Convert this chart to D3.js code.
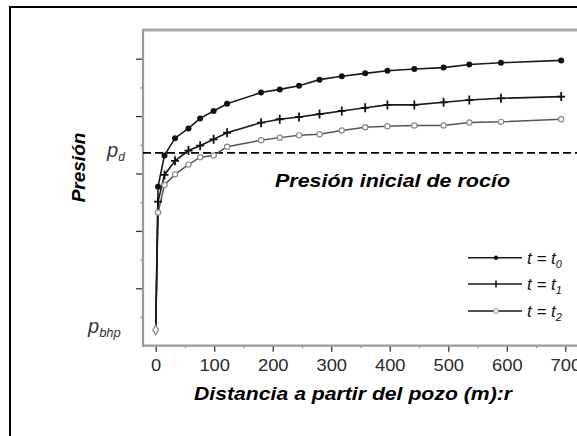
<!DOCTYPE html>
<html>
<head>
<meta charset="utf-8">
<script src="https://cdn.jsdelivr.net/npm/d3@7"></script>
<style>
  html, body { margin: 0; padding: 0; background: #fff; }
  svg { display: block; font-family: "Liberation Sans", Arial, sans-serif; }
</style>
</head>
<body>
<script>
// ---- data ----
const distances = [4, 15, 33, 56, 76, 99, 122, 180, 212, 245, 280, 318, 358, 396, 442, 492, 536, 590, 693];
const pressureT0 = [5.54, 6.63, 7.23, 7.57, 7.92, 8.18, 8.43, 8.82, 8.93, 9.06, 9.27, 9.39, 9.49, 9.58, 9.64, 9.69, 9.80, 9.86, 9.94];
const pressureT1 = [5.02, 5.95, 6.44, 6.80, 6.97, 7.19, 7.42, 7.77, 7.89, 7.97, 8.07, 8.18, 8.29, 8.39, 8.39, 8.48, 8.56, 8.62, 8.68];
const pressureT2 = [4.64, 5.60, 5.97, 6.31, 6.57, 6.63, 6.93, 7.16, 7.25, 7.33, 7.37, 7.50, 7.61, 7.65, 7.67, 7.67, 7.78, 7.80, 7.89];
const wellR = 0;
const pBhp = 0.55;
const pDew = 6.72;
const xTicks = [0, 100, 200, 300, 400, 500, 600, 700];
const xMinorTicks = [50, 150, 250, 350, 450, 550, 650];
const yMajorTicks = [2, 4, 6, 8, 10];
const yMinorTicks = [1, 3, 5, 7, 9];
const seriesNames = ["0", "1", "2"];

const W = 577, H = 436;
const svg = d3.select("body").append("svg").attr("width", W).attr("height", H);

// outer frame (extends beyond the picture on right/bottom)
svg.append("path").attr("d", "M10,436V7H577").attr("fill", "none")
  .attr("stroke", "#000").attr("stroke-width", 2);

const x = d3.scaleLinear().domain([-21.7, 720]).range([143, 577]);
const y = d3.scaleLinear().domain([0, 11]).range([345.7, 30]);

// plot frame lines
svg.append("line").attr("x1", 143).attr("x2", 577).attr("y1", 30).attr("y2", 30)
  .attr("stroke", "#a8a8a8").attr("stroke-width", 3);

// y axis
const yMajor = svg.append("g").attr("transform", "translate(143,0)")
  .call(d3.axisLeft(y).tickValues(yMajorTicks).tickSize(7).tickFormat(""));
yMajor.select(".domain").remove();
yMajor.selectAll(".tick line").attr("stroke", "#333").attr("stroke-width", 1.3);
const yMinor = svg.append("g").attr("transform", "translate(143,0)")
  .call(d3.axisLeft(y).tickValues(yMinorTicks).tickSize(2.5).tickFormat(""));
yMinor.select(".domain").remove();
yMinor.selectAll(".tick line").attr("stroke", "#888").attr("stroke-width", 1.3);
svg.append("line").attr("x1", 143).attr("x2", 143).attr("y1", 29).attr("y2", 347)
  .attr("stroke", "#999").attr("stroke-width", 2.2);

// x axis
const xAxisG = svg.append("g").attr("transform", "translate(0,345.7)")
  .call(d3.axisBottom(x).tickValues(xTicks).tickSize(6).tickPadding(8).tickFormat(d3.format("d")));
xAxisG.select(".domain").remove();
xAxisG.selectAll(".tick line").attr("stroke", "#333").attr("stroke-width", 1.3);
xAxisG.selectAll(".tick text")
  .attr("font-size", 16).attr("fill", "#2a2a2a")
  .attr("font-family", "'Liberation Sans', Arial, sans-serif")
  .attr("textLength", d => String(d).length * 10.2)
  .attr("lengthAdjust", "spacingAndGlyphs");
const xMinorG = svg.append("g").attr("transform", "translate(0,345.7)")
  .call(d3.axisBottom(x).tickValues(xMinorTicks).tickSize(2.5).tickFormat(""));
xMinorG.select(".domain").remove();
xMinorG.selectAll(".tick line").attr("stroke", "#999").attr("stroke-width", 1.3);
svg.append("line").attr("x1", 142).attr("x2", 577).attr("y1", 345.7).attr("y2", 345.7)
  .attr("stroke", "#999").attr("stroke-width", 2.2);

// dew pressure dashed line
svg.append("line").attr("x1", x.domain()[0] ? 143 : 143).attr("x2", 577)
  .attr("y1", y(pDew)).attr("y2", y(pDew))
  .attr("stroke", "#000").attr("stroke-width", 1.6).attr("stroke-dasharray", "8,4");

// series
const mk = vals => [{ r: wellR, v: pBhp }].concat(distances.map((r, i) => ({ r, v: vals[i] })));
const s0 = mk(pressureT0), s1 = mk(pressureT1), s2 = mk(pressureT2);
const line = d3.line().x(d => x(d.r)).y(d => y(d.v));

svg.append("path").datum(s2).attr("d", line).attr("fill", "none").attr("stroke", "#555").attr("stroke-width", 1.5);
svg.append("path").datum(s1).attr("d", line).attr("fill", "none").attr("stroke", "#1a1a1a").attr("stroke-width", 1.6);
svg.append("path").datum(s0).attr("d", line).attr("fill", "none").attr("stroke", "#1a1a1a").attr("stroke-width", 1.6);

// markers
svg.append("g").selectAll("circle").data(s2.slice(1)).join("circle")
  .attr("cx", d => x(d.r)).attr("cy", d => y(d.v)).attr("r", 2.6)
  .attr("fill", "#fff").attr("stroke", "#8a8a8a").attr("stroke-width", 1.2);
svg.append("g").selectAll("path").data(s1.slice(1)).join("path")
  .attr("transform", d => `translate(${x(d.r)},${y(d.v)})`)
  .attr("d", "M-4,0H4M0,-4.5V4.5").attr("stroke", "#111").attr("stroke-width", 1.8);
svg.append("g").selectAll("circle").data(s0.slice(1)).join("circle")
  .attr("cx", d => x(d.r)).attr("cy", d => y(d.v)).attr("r", 3)
  .attr("fill", "#111");
svg.append("path")
  .attr("transform", `translate(${x(wellR)},${y(pBhp)})`)
  .attr("d", d3.symbol(d3.symbolDiamond, 28)())
  .attr("fill", "#fff").attr("stroke", "#888").attr("stroke-width", 1.2);

// texts
const bi = sel => sel.attr("font-weight", "bold").attr("font-style", "italic");
svg.append("text").attr("x", 275).attr("y", 187).attr("font-size", 19)
  .attr("textLength", 235).attr("lengthAdjust", "spacingAndGlyphs")
  .call(bi).text("Presión inicial de rocío");
svg.append("text").attr("x", 194).attr("y", 400).attr("font-size", 19)
  .attr("textLength", 318).attr("lengthAdjust", "spacingAndGlyphs")
  .call(bi).text("Distancia a partir del pozo (m):r");
svg.append("text").attr("transform", "translate(85,167.5) rotate(-90)")
  .attr("text-anchor", "middle").attr("font-size", 19).call(bi).text("Presión");

const pd = svg.append("text").attr("x", 107).attr("y", 157).attr("font-size", 20)
  .attr("font-style", "italic").attr("fill", "#333");
pd.append("tspan").text("p");
pd.append("tspan").attr("font-size", 12).attr("dy", 4).text("d");
const pb = svg.append("text").attr("x", 88).attr("y", 333).attr("font-size", 20)
  .attr("font-style", "italic").attr("fill", "#333");
pb.append("tspan").text("p");
pb.append("tspan").attr("font-size", 13).attr("dy", 4).text("bhp");

// legend
const legY = [257.8, 284, 311];
const lg = svg.append("g");
seriesNames.forEach((name, i) => {
  const yy = legY[i];
  lg.append("line").attr("x1", 468).attr("x2", 522).attr("y1", yy).attr("y2", yy)
    .attr("stroke", "#1a1a1a").attr("stroke-width", 1.6);
  if (i === 0) lg.append("circle").attr("cx", 496).attr("cy", yy).attr("r", 2.2).attr("fill", "#111");
  if (i === 1) lg.append("line").attr("x1", 496).attr("x2", 496).attr("y1", yy - 3.5).attr("y2", yy + 3.5)
    .attr("stroke", "#111").attr("stroke-width", 1.6);
  if (i === 2) lg.append("circle").attr("cx", 496).attr("cy", yy).attr("r", 2.2)
    .attr("fill", "#fff").attr("stroke", "#999").attr("stroke-width", 1.1);
  const t = lg.append("text").attr("x", 527).attr("y", yy + 6).attr("font-size", 17)
    .attr("font-style", "italic").attr("fill", "#111");
  t.append("tspan").text("t = t");
  t.append("tspan").attr("font-size", 11).attr("dy", 4).text(name);
});
</script>
</body>
</html>
